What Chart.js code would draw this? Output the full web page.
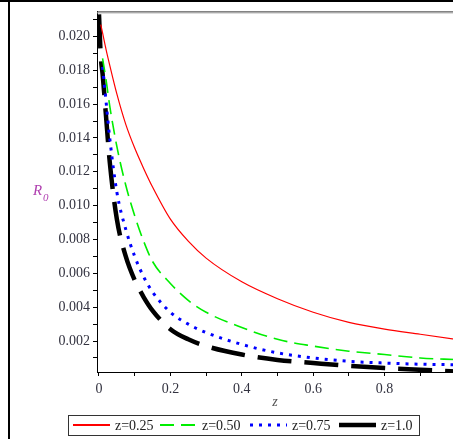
<!DOCTYPE html>
<html>
<head>
<meta charset="utf-8">
<script src="https://cdn.jsdelivr.net/npm/chart.js@4.4.1/dist/chart.umd.min.js"></script>
<style>
  html, body { margin: 0; padding: 0; background: #fff; overflow: hidden; }
  #wrap { position: relative; width: 453px; height: 439px; overflow: hidden; }
  #myChart { position: absolute; left: 0; top: 0; }
</style>
</head>
<body>
<div id="wrap"><canvas id="myChart" width="470" height="439"></canvas></div>
<script>
// values
const zValues = [0, 0.005, 0.01, 0.02, 0.03, 0.05, 0.075, 0.1, 0.125, 0.15, 0.2, 0.25, 0.3, 0.4, 0.5, 0.6, 0.7, 0.8, 0.9, 1.0];
const r025 = [null, 0.0207, 0.0202, 0.0192, 0.0183, 0.0166, 0.0148, 0.0134, 0.0122, 0.0111, 0.0092, 0.0079, 0.0069, 0.0055, 0.0045, 0.0037, 0.0031, 0.0027, 0.0024, 0.0021];
const r050 = [null, null, 0.0187, 0.0174, 0.0159, 0.0135, 0.0112, 0.0094, 0.0079, 0.0067, 0.0054, 0.0044, 0.0037, 0.0028, 0.0021, 0.0017, 0.0014, 0.0012, 0.0010, 0.0009];
const r075 = [null, null, 0.0182, 0.0161, 0.0140, 0.0108, 0.0086, 0.0070, 0.0058, 0.0049, 0.0037, 0.0030, 0.0025, 0.0018, 0.0013, 0.0010, 0.00080, 0.00070, 0.00063, 0.0006];
const r100 = [0.0213, 0.0188, 0.0178, 0.0152, 0.0126, 0.0092, 0.0070, 0.0056, 0.0046, 0.0038, 0.0027, 0.0021, 0.0017, 0.0012, 0.00088, 0.0007, 0.00053, 0.0004, 0.0003, 0.0002];
const seriesLabels = ['z=0.25', 'z=0.50', 'z=0.75', 'z=1.0'];
const xTickLabels = ['0', '0.2', '0.4', '0.6', '0.8', '1'];
const yTickLabels = ['0.002', '0.004', '0.006', '0.008', '0.010', '0.012', '0.014', '0.016', '0.018', '0.020'];

const tickFont = { family: 'Liberation Serif', size: 14 };
const tickColor = '#333340';

function toPoints(arr) {
  return zValues.map((z, i) => ({ x: z, y: arr[i] }));
}

// frame, axis titles and the boxed legend
const extrasPlugin = {
  id: 'extras',
  afterDraw(chart) {
    const ctx = chart.ctx;
    const a = chart.chartArea;
    ctx.save();
    ctx.fillStyle = '#000';
    ctx.fillRect(0, 0, chart.width, 2);
    ctx.fillRect(8, 0, 2, chart.height);
    ctx.fillStyle = '#333';
    ctx.fillRect(a.left, a.top, chart.width - a.left, 1);
    ctx.fillStyle = '#aaa';
    ctx.fillRect(a.left, a.top + 1, chart.width - a.left, 1);

    // x axis title
    ctx.fillStyle = '#555';
    ctx.font = 'italic 14px "Liberation Serif"';
    ctx.textAlign = 'center';
    ctx.textBaseline = 'middle';
    ctx.fillText('z', 275, 402);

    // y axis title R0
    ctx.fillStyle = '#b040b0';
    ctx.textAlign = 'left';
    ctx.font = 'italic 15px "Liberation Serif"';
    ctx.fillText('R', 33, 191);
    ctx.font = 'italic 11px "Liberation Serif"';
    ctx.fillText('0', 43, 198);

    // legend
    ctx.strokeStyle = '#333';
    ctx.lineWidth = 1;
    ctx.strokeRect(68.5, 415.5, 351, 20);
    const sampleX = [73, 160, 250, 339];
    chart.data.datasets.forEach((ds, i) => {
      ctx.beginPath();
      ctx.strokeStyle = ds.borderColor;
      ctx.lineWidth = Math.max(ds.borderWidth, 2);
      ctx.setLineDash(i === 3 ? [] : (ds.borderDash || []));
      ctx.moveTo(sampleX[i], 425);
      ctx.lineTo(sampleX[i] + 37, 425);
      ctx.stroke();
      ctx.setLineDash([]);
      ctx.fillStyle = '#222';
      ctx.font = '14px "Liberation Serif"';
      ctx.textAlign = 'left';
      ctx.fillText(ds.label, sampleX[i] + 42, 426);
    });
    ctx.restore();
  }
};

document.addEventListener('DOMContentLoaded', () => {
  const ctx = document.getElementById('myChart').getContext('2d');
  const myChart = new Chart(ctx, {
    type: 'line',
    data: {
      datasets: [
        { label: seriesLabels[0], data: toPoints(r025), borderColor: '#ff0000', borderWidth: 1.2 },
        { label: seriesLabels[1], data: toPoints(r050), borderColor: '#00ee00', borderWidth: 1.6, borderDash: [14, 7] },
        { label: seriesLabels[2], data: toPoints(r075), borderColor: '#0000ff', borderWidth: 3, borderDash: [3, 6] },
        { label: seriesLabels[3], data: toPoints(r100), borderColor: '#000000', borderWidth: 4.5, borderDash: [34, 13] }
      ]
    },
    options: {
      responsive: false,
      animation: false,
      devicePixelRatio: 1,
      layout: { padding: { left: 37, top: 11, right: 14, bottom: 27 } },
      elements: {
        point: { radius: 0 },
        line: { cubicInterpolationMode: 'monotone', fill: false }
      },
      plugins: { legend: { display: false }, tooltip: { enabled: false } },
      scales: {
        x: {
          type: 'linear',
          min: -0.0056,
          max: 1.0,
          afterFit: s => { s.height = 40; },
          afterBuildTicks: s => {
            const t = [];
            for (let i = 0; i <= 10; i++) t.push({ value: i / 10 });
            s.ticks = t;
          },
          ticks: {
            padding: 5,
            font: tickFont,
            color: tickColor,
            maxRotation: 0,
            autoSkip: false,
            callback: (v) => {
              const k = Math.round(v * 10);
              return k % 2 === 0 ? xTickLabels[k / 2] : '';
            }
          },
          grid: { drawOnChartArea: false, tickLength: 4, tickColor: '#000' },
          border: { color: '#000', width: 1 }
        },
        y: {
          type: 'linear',
          min: 0.00017,
          max: 0.021476,
          afterFit: s => { s.width = 60; },
          afterBuildTicks: s => {
            const t = [];
            for (let i = 1; i <= 21; i++) t.push({ value: i / 1000 });
            s.ticks = t;
          },
          ticks: {
            padding: 3,
            font: tickFont,
            color: tickColor,
            autoSkip: false,
            callback: (v) => {
              const k = Math.round(v * 1000);
              return k % 2 === 0 ? yTickLabels[k / 2 - 1] : '';
            }
          },
          grid: { drawOnChartArea: false, tickLength: 4, tickColor: '#000' },
          border: { color: '#000', width: 1 }
        }
      }
    },
    plugins: [extrasPlugin]
  });
});
</script>
</body>
</html>
